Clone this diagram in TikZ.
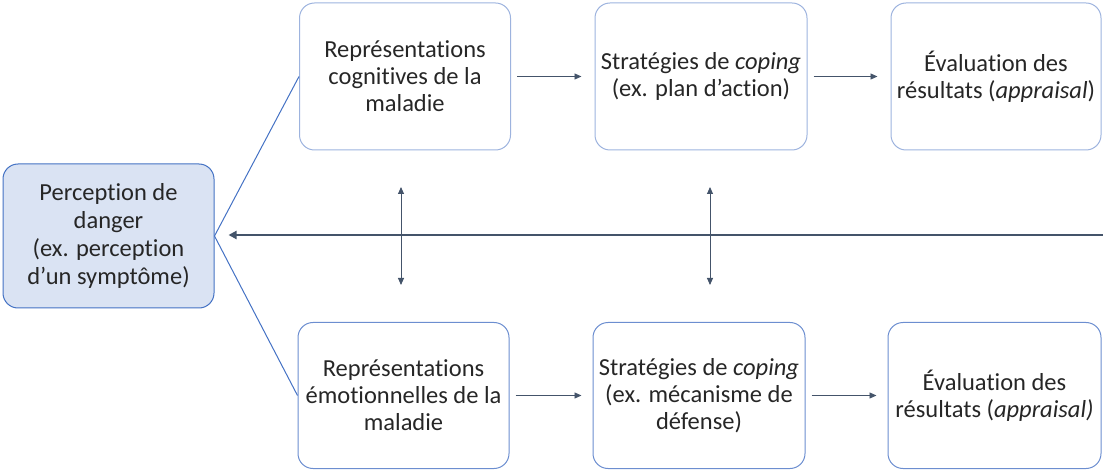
\documentclass[tikz,border=0pt]{standalone}
\usepackage{fontspec}
\setmainfont{Carlito}[Ligatures={NoCommon}]
\usetikzlibrary{arrows.meta,calc}
\definecolor{topborder}{HTML}{9DB3DE}
\definecolor{botborder}{HTML}{6C8ED0}
\definecolor{leftfill}{HTML}{DAE3F3}
\definecolor{leftborder}{HTML}{4472C4}
\definecolor{slate}{HTML}{44546A}
\tikzset{
  box/.style={rectangle, rounded corners=15pt, draw=topborder, line width=1pt,
    align=center, inner sep=0pt, font=\fontsize{24.5}{27}\selectfont, text=black!85},
  topbox/.style={box, draw=topborder},
  botbox/.style={box, draw=botborder},
  leftbox/.style={box, draw=leftborder, fill=leftfill, font=\fontsize{24.5}{28}\selectfont},
  link/.style={draw=leftborder, line width=1pt},
  arr/.style={draw=slate, line width=0.9pt, -{Triangle[length=7pt,width=6pt]}},
  dbl/.style={draw=slate, line width=0.9pt, {Triangle[length=7pt,width=6pt]}-{Triangle[length=7pt,width=6pt]}},
  bigarr/.style={draw=slate, line width=2pt, -{Triangle[length=8pt,width=8pt]}},
}
\begin{document}
\begin{tikzpicture}[x=1pt,y=-1pt]
\useasboundingbox (0,0) rectangle (1103,470);
\node[leftbox, minimum width=211pt, minimum height=144pt] (pd) at (108.5,236) {Perception de\\danger\\(ex. perception\\d'un symptôme)};
\node[topbox, minimum width=211pt, minimum height=147pt] (c1) at (405,76.5) {Représentations\\cognitives de la\\maladie};
\node[topbox, minimum width=212pt, minimum height=147pt] (s1) at (701,76.5) {Stratégies de \textit{coping}\\(ex. plan d'action)};
\node[topbox, minimum width=210pt, minimum height=147pt] (e1) at (996,76.5) {Évaluation des\\résultats (\textit{appraisal})};
\node[botbox, minimum width=211pt, minimum height=146pt] (c2) at (403.5,395.5) {Représentations\\émotionnelles de la\\maladie};
\node[botbox, minimum width=212pt, minimum height=146pt] (s2) at (699,395.5) {Stratégies de \textit{coping}\\(ex. mécanisme de\\défense)};
\node[botbox, minimum width=213pt, minimum height=146pt] (e2) at (994.5,395.5) {Évaluation des\\résultats (\textit{appraisal)}};
\coordinate (right) at (1103,235);
\coordinate (v1a) at (401,187);
\coordinate (v1b) at (401,285);
\coordinate (v2a) at (710,187);
\coordinate (v2b) at (710,285);
\draw[link] (pd.east) -- (c1.west);
\draw[link] (pd.east) -- (c2.west);
\draw[arr, shorten <=6pt, shorten >=13pt] (c1.east) -- (s1.west);
\draw[arr, shorten <=6pt, shorten >=13pt] (s1.east) -- (e1.west);
\draw[arr, shorten <=6pt, shorten >=11pt] (c2.east) -- (s2.west);
\draw[arr, shorten <=6pt, shorten >=11pt] (s2.east) -- (e2.west);
\draw[bigarr, shorten >=14pt] (right) -- (pd.east |- right);
\draw[dbl] (v1a) -- (v1b);
\draw[dbl] (v2a) -- (v2b);
\end{tikzpicture}
\end{document}
